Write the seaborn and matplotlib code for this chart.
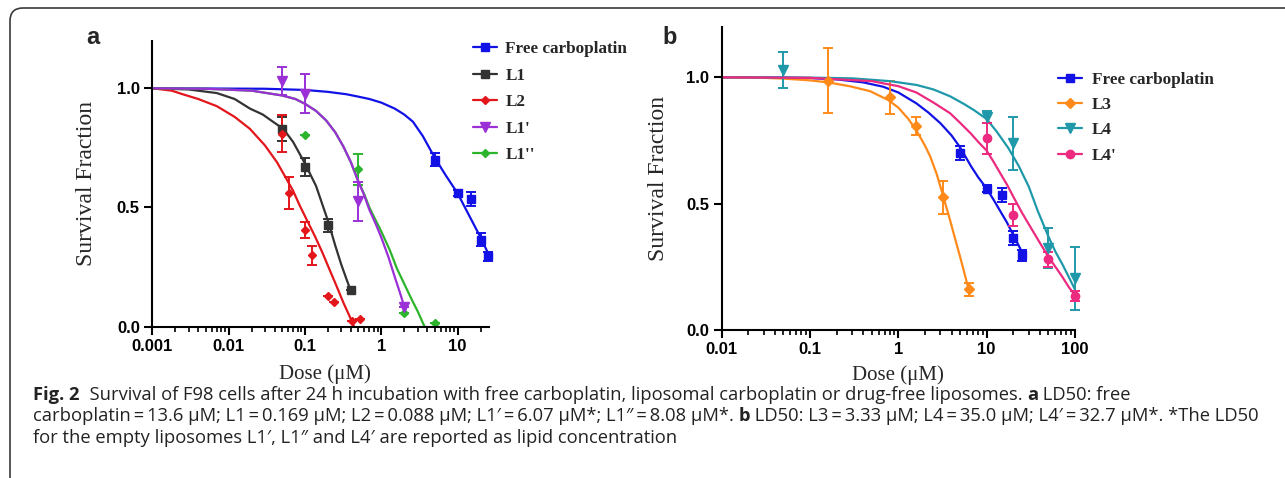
import numpy as np
import pandas as pd
import matplotlib
matplotlib.use('Agg')
import matplotlib.pyplot as plt
import seaborn as sns
from matplotlib.lines import Line2D
from matplotlib.patches import FancyBboxPatch
from matplotlib.ticker import LogLocator, NullFormatter

# ---- panel a : measured points (dose uM, survival fraction, sem) ----
free_x = [5, 10, 15, 20, 25]
free_y = [0.70, 0.56, 0.535, 0.365, 0.295]
free_err = [0.028, 0.012, 0.028, 0.028, 0.02]

l1_x = [0.05, 0.1, 0.2, 0.4]
l1_y = [0.83, 0.67, 0.425, 0.155]
l1_err = [0.05, 0.039, 0.028, 0.0]

l2_x = [0.05, 0.061, 0.1, 0.123, 0.2, 0.24, 0.41, 0.52]
l2_y = [0.81, 0.56, 0.405, 0.30, 0.13, 0.105, 0.025, 0.031]
l2_err = [0.077, 0.066, 0.035, 0.04, 0.0, 0.0, 0.0, 0.0]

l1p_x = [0.05, 0.1, 0.5, 2.0]
l1p_y = [1.03, 0.978, 0.527, 0.082]
l1p_err = [0.06, 0.08, 0.082, 0.0]

l1pp_x = [0.1, 0.5, 2.0, 5.0]
l1pp_y = [0.804, 0.66, 0.056, 0.017]
l1pp_err = [0.0, 0.066, 0.0, 0.0]

# ---- panel a : fitted curves ----
free_a_cx = [0.001, 0.03, 0.1, 0.2, 0.35, 0.5, 0.7, 1.0, 1.5, 2.0, 2.6, 3.5, 5.0, 7.0, 10, 14, 20, 25]
free_a_cy = [1.0, 0.998, 0.993, 0.985, 0.975, 0.965, 0.955, 0.94, 0.915, 0.89, 0.86, 0.8, 0.71,
             0.635, 0.56, 0.47, 0.375, 0.31]
l1_cx = [0.001, 0.003, 0.007, 0.012, 0.019, 0.028, 0.04, 0.052, 0.07, 0.1, 0.14, 0.2, 0.25, 0.3, 0.35, 0.4]
l1_cy = [1.0, 0.995, 0.98, 0.955, 0.915, 0.89, 0.855, 0.83, 0.775, 0.685, 0.59, 0.445, 0.34, 0.26, 0.2, 0.15]
l2_cx = [0.001, 0.0018, 0.0025, 0.004, 0.007, 0.012, 0.019, 0.03, 0.043, 0.055, 0.07, 0.085, 0.105,
         0.135, 0.17, 0.21, 0.26, 0.32, 0.39, 0.44]
l2_cy = [1.0, 0.99, 0.975, 0.955, 0.925, 0.88, 0.83, 0.76, 0.69, 0.63, 0.57, 0.51, 0.45,
         0.38, 0.31, 0.24, 0.17, 0.1, 0.04, 0.0]
l1p_cx = [0.001, 0.005, 0.02, 0.05, 0.075, 0.1, 0.14, 0.19, 0.25, 0.32, 0.4, 0.5, 0.6, 0.7, 0.85,
          1.0, 1.25, 1.5, 1.75, 2.0]
l1p_cy = [1.0, 0.998, 0.99, 0.97, 0.955, 0.935, 0.905, 0.865, 0.815, 0.755, 0.69, 0.61, 0.55, 0.49, 0.43,
          0.375, 0.29, 0.21, 0.145, 0.085]
l1pp_cx = [0.001, 0.005, 0.02, 0.05, 0.075, 0.1, 0.14, 0.19, 0.25, 0.32, 0.4, 0.5, 0.6, 0.7, 0.85,
           1.0, 1.3, 1.6, 2.0, 2.5, 3.0, 3.7]
l1pp_cy = [1.0, 0.998, 0.99, 0.97, 0.955, 0.935, 0.905, 0.865, 0.815, 0.755, 0.69, 0.61, 0.555, 0.5, 0.445,
           0.4, 0.32, 0.245, 0.18, 0.115, 0.065, 0.0]

# ---- panel b : measured points ----
l3_x = [0.16, 0.8, 1.6, 3.2, 6.3]
l3_y = [0.987, 0.921, 0.808, 0.525, 0.161]
l3_err = [0.13, 0.065, 0.036, 0.066, 0.026]

l4_x = [0.05, 10, 20, 50, 100]
l4_y = [1.029, 0.844, 0.739, 0.323, 0.204]
l4_err = [0.071, 0.023, 0.104, 0.079, 0.124]

l4p_x = [10, 20, 50, 100]
l4p_y = [0.758, 0.455, 0.28, 0.135]
l4p_err = [0.061, 0.042, 0.03, 0.02]

# ---- panel b : fitted curves ----
free_b_cx = [0.01, 0.05, 0.1, 0.2, 0.4, 0.67, 1.0, 1.6, 2.2, 3.0, 4.0, 5.0, 6.6, 8, 10, 12, 14, 17, 20, 25]
free_b_cy = [1.0, 0.999, 0.997, 0.992, 0.98, 0.963, 0.94, 0.897, 0.86, 0.818, 0.77, 0.723, 0.65, 0.605,
             0.56, 0.515, 0.475, 0.425, 0.376, 0.31]
l3_cx = [0.01, 0.03, 0.05, 0.1, 0.16, 0.28, 0.48, 0.77, 1.0, 1.3, 1.6, 2.0, 2.3, 2.7, 3.0, 3.4, 3.85,
         4.4, 5.0, 5.6, 6.2]
l3_cy = [1.0, 0.998, 0.995, 0.988, 0.98, 0.965, 0.945, 0.91, 0.88, 0.835, 0.79, 0.73, 0.686, 0.62, 0.567,
         0.5, 0.435, 0.36, 0.29, 0.225, 0.165]
l4_cx = [0.01, 0.1, 0.3, 0.8, 1.6, 2.5, 3.85, 5.5, 7.2, 10, 13, 17.6, 23, 30, 38, 50, 60, 72, 85, 100]
l4_cy = [1.0, 0.999, 0.996, 0.985, 0.97, 0.952, 0.925, 0.895, 0.87, 0.835, 0.785, 0.72, 0.65, 0.567,
         0.47, 0.37, 0.31, 0.26, 0.21, 0.16]
l4p_cx = [0.01, 0.1, 0.5, 1.0, 1.6, 2.5, 3.85, 5, 6.6, 8, 10, 12, 14, 17, 20, 25, 31, 40, 50, 60, 72, 85, 100]
l4p_cy = [1.0, 0.998, 0.985, 0.965, 0.94, 0.9, 0.858, 0.82, 0.778, 0.745, 0.71, 0.665, 0.625, 0.575,
          0.528, 0.465, 0.41, 0.345, 0.29, 0.25, 0.21, 0.17, 0.138]

blue = '#1212e6'
black = '#333333'
red = '#e3161b'
purple = '#9a30d6'
green = '#2cb52c'
orange = '#ff8a1a'
teal = '#1f99aa'
pink = '#ec2a80'

sns.set_style('ticks')
plt.rcParams['font.family'] = ['Liberation Sans', 'DejaVu Sans']

fig = plt.figure(figsize=(12.85, 4.78), dpi=100)
axA = fig.add_axes([152.3 / 1285, 1 - 326.7 / 478, 336.9 / 1285, 286.1 / 478])
axB = fig.add_axes([721.7 / 1285, 1 - 330 / 478, 353.3 / 1285, 303.2 / 478])


def draw(ax, cx, cy, px, py, perr, color, marker, ms):
    sns.lineplot(x=cx, y=cy, ax=ax, color=color, lw=1.6, sort=False, estimator=None)
    eb = ax.errorbar(px, py, yerr=perr, fmt=marker, color=color, ms=ms, capsize=3.5,
                     elinewidth=1.4, capthick=1.4, lw=0)
    for art in eb.get_children():
        art.set_clip_on(False)


draw(axA, free_a_cx, free_a_cy, free_x, free_y, free_err, blue, 's', 6)
draw(axA, l1_cx, l1_cy, l1_x, l1_y, l1_err, black, 's', 6)
draw(axA, l2_cx, l2_cy, l2_x, l2_y, l2_err, red, 'D', 4.5)
draw(axA, l1pp_cx, l1pp_cy, l1pp_x, l1pp_y, l1pp_err, green, 'D', 4.5)
draw(axA, l1p_cx, l1p_cy, l1p_x, l1p_y, l1p_err, purple, 'v', 6.5)

draw(axB, free_b_cx, free_b_cy, free_x, free_y, free_err, blue, 's', 6)
draw(axB, l3_cx, l3_cy, l3_x, l3_y, l3_err, orange, 'D', 5)
draw(axB, l4_cx, l4_cy, l4_x, l4_y, l4_err, teal, 'v', 6.5)
draw(axB, l4p_cx, l4p_cy, l4p_x, l4p_y, l4p_err, pink, 'o', 6)

tick_font = {'family': 'Liberation Sans', 'weight': 'bold', 'size': 12}
for ax, xlo, xhi, ticks, labels in [
        (axA, 0.001, 26, [0.001, 0.01, 0.1, 1, 10], ['0.001', '0.01', '0.1', '1', '10']),
        (axB, 0.01, 100, [0.01, 0.1, 1, 10, 100], ['0.01', '0.1', '1', '10', '100'])]:
    ax.set_xscale('log')
    ax.set_xlim(xlo, xhi)
    ax.set_ylim(0, 1.2)
    ax.set_xticks(ticks)
    ax.set_xticklabels(labels, fontdict=tick_font)
    ax.xaxis.set_minor_locator(LogLocator(base=10, subs=np.arange(2, 10)))
    ax.xaxis.set_minor_formatter(NullFormatter())
    ax.set_yticks([0, 0.5, 1.0])
    ax.set_yticklabels(['0.0', '0.5', '1.0'], fontdict=tick_font)
    ax.tick_params(axis='both', which='major', direction='out', length=6, width=1.5, pad=3, colors='black')
    ax.tick_params(axis='x', which='minor', direction='out', length=3.5, width=1.2, colors='black')
    sns.despine(ax=ax)
    for s in ['left', 'bottom']:
        ax.spines[s].set_linewidth(1.5)
        ax.spines[s].set_color('black')
    ax.set_xlabel('Dose (\u03bcM)', family='Liberation Serif', fontsize=15)
    ax.set_ylabel('Survival Fraction', family='Liberation Serif', fontsize=17)
    ax.set_facecolor('none')

axA.xaxis.set_label_coords(0.513, -0.13)
axA.yaxis.set_label_coords((97 - 152.3) / 336.9, 0.5)
axB.xaxis.set_label_coords(0.5, -0.115)
axB.yaxis.set_label_coords((669 - 721.7) / 353.3, 0.5)

# legends
leg_font = {'family': 'Liberation Serif', 'weight': 'bold', 'size': 12.3}


def handle(color, marker, ms):
    return Line2D([], [], color=color, marker=marker, ms=ms, lw=1.6)


hA = [handle(blue, 's', 6), handle(black, 's', 6), handle(red, 'D', 4.5),
      handle(purple, 'v', 6.5), handle(green, 'D', 4.5)]
axA.legend(hA, ['Free carboplatin', 'L1', 'L2', "L1'", "L1''"], loc='upper left',
           bbox_to_anchor=(473 / 1285, 1 - 41 / 478), bbox_transform=fig.transFigure,
           frameon=False, prop=leg_font, handlelength=1.4, handletextpad=0.5,
           labelspacing=0.62, borderpad=0, borderaxespad=0)
hB = [handle(blue, 's', 6), handle(orange, 'D', 5), handle(teal, 'v', 6.5), handle(pink, 'o', 6)]
axB.legend(hB, ['Free carboplatin', 'L3', 'L4', "L4'"], loc='upper left',
           bbox_to_anchor=(1058 / 1285, 1 - 72 / 478), bbox_transform=fig.transFigure,
           frameon=False, prop=leg_font, handlelength=1.4, handletextpad=0.6,
           labelspacing=0.54, borderpad=0, borderaxespad=0)

fig.text(93 / 1285, 1 - 37 / 478, 'a', ha='center', va='center', fontsize=17, weight='bold')
fig.text(670 / 1285, 1 - 37 / 478, 'b', ha='center', va='center', fontsize=17, weight='bold')

# frame (only top and left edges visible, rounded corner)
frame = FancyBboxPatch((0.10, -1.0), 14.0, 4.70 + 1.0,
                       boxstyle='round,pad=0,rounding_size=0.13',
                       transform=fig.dpi_scale_trans, fill=False,
                       edgecolor='#3a3a3a', lw=1.2, clip_on=False)
fig.patches.append(frame)

# caption
cap_ax = fig.add_axes([0, 0, 1, 1])
cap_ax.axis('off')
cap_fam = ['Open Sans', 'DejaVu Sans']
cap_size = 13.2
ts = '\u2009=\u2009'
cap_lines = [
    [('Fig. 2', 'bold'),
     ('  Survival of F98 cells after 24 h incubation with free carboplatin, liposomal carboplatin or drug-free liposomes. ', 'normal'),
     ('a', 'bold'), (' LD50: free', 'normal')],
    [('carboplatin' + ts + '13.6 \u03bcM; L1' + ts + '0.169 \u03bcM; L2' + ts + '0.088 \u03bcM; L1\u2032' + ts
      + '6.07 \u03bcM*; L1\u2033' + ts + '8.08 \u03bcM*. ', 'normal'),
     ('b', 'bold'),
     (' LD50: L3' + ts + '3.33 \u03bcM; L4' + ts + '35.0 \u03bcM; L4\u2032' + ts + '32.7 \u03bcM*. *The LD50', 'normal')],
    [('for the empty liposomes L1\u2032, L1\u2033 and L4\u2032 are reported as lipid concentration', 'normal')],
]
baselines = [400, 421, 443]
for line, base in zip(cap_lines, baselines):
    prev = None
    for txt, wt in line:
        if prev is None:
            prev = cap_ax.text(33 / 1285, 1 - base / 478, txt, transform=fig.transFigure,
                               family=cap_fam, weight=wt, fontsize=cap_size, color='#222222',
                               va='baseline', ha='left')
        else:
            prev = cap_ax.annotate(txt, xy=(1, 0), xycoords=prev, va='bottom', ha='left',
                                   family=cap_fam, weight=wt, fontsize=cap_size, color='#222222')

fig.savefig('out.png', dpi=100)
